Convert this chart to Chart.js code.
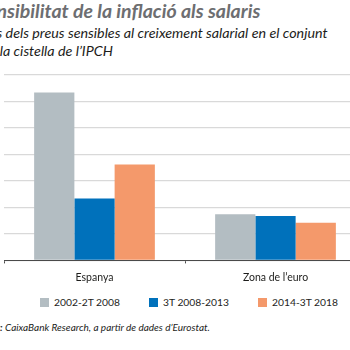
<!DOCTYPE html>
<html lang="ca">
<head>
<meta charset="utf-8">
<script src="https://cdn.jsdelivr.net/npm/chart.js@4.4.1/dist/chart.umd.min.js"></script>
<style>
  html, body { margin: 0; padding: 0; background: #fff; }
  body { width: 350px; height: 350px; overflow: hidden; position: relative; font-family: Lato, "Open Sans", sans-serif; }
  .title { position: absolute; top: -1px; left: -23px; white-space: nowrap;
           font: italic 700 19.5px Lato, sans-serif; color: #6d6e71; line-height: 23px; }
  .subtitle { position: absolute; top: 24px; left: -18px; white-space: nowrap;
              font: italic 400 14.3px Lato, sans-serif; color: #1d1d1b; line-height: 18px; }
  #wrap { position: absolute; left: 4px; top: 70px; width: 362px; height: 222px; }
  #legend { position: absolute; left: 40px; top: 296px; display: flex; align-items: center;
            font: 400 10.3px Lato, sans-serif; color: #1d1d1b; white-space: nowrap; line-height: 13px; }
  #legend .item { display: flex; align-items: center; width: 109px; }
  #legend .box { width: 9px; height: 9px; margin-right: 5px; }
  .source { position: absolute; top: 320px; left: -19px; white-space: nowrap;
            font: italic 400 10px Lato, sans-serif; color: #1d1d1b; line-height: 14px; }
  .source b { font-weight: 700; }
</style>
</head>
<body>
<div class="title">Sensibilitat de la inflació als salaris</div>
<div class="subtitle">Pes dels preus sensibles al creixement salarial en el conjunt<br>de la cistella de l’IPCH</div>
<div id="wrap"><canvas id="chart"></canvas></div>
<div id="legend"></div>
<div class="source"><b>Font:</b> CaixaBank Research, a partir de dades d’Eurostat.</div>
<script>
// Categories and series (% of the HICP basket)
const categories = ['Espanya', 'Zona de l’euro'];
const periods = ['2002-2T 2008', '3T 2008-2013', '2014-3T 2018'];
const period1 = [31.7, 8.7];
const period2 = [11.7, 8.4];
const period3 = [18.1, 7.1];
const colors = ['#b3bdc2', '#0071bb', '#f4996b'];

const series = [period1, period2, period3];

const chart = new Chart(document.getElementById('chart'), {
  type: 'bar',
  data: {
    labels: categories,
    datasets: series.map((values, i) => ({
      label: periods[i],
      data: values,
      backgroundColor: colors[i],
      borderWidth: 0,
      barPercentage: 1,
      categoryPercentage: 0.667
    }))
  },
  options: {
    responsive: true,
    maintainAspectRatio: false,
    animation: false,
    layout: { padding: { top: 5, left: 0, right: 0, bottom: 0 } },
    plugins: { legend: { display: false }, tooltip: { enabled: false } },
    scales: {
      x: {
        grid: { display: true, drawOnChartArea: false, drawTicks: true, tickLength: 3, color: '#4a4a4a', lineWidth: 1 },
        border: { display: true, color: '#4a4a4a', width: 1 },
        ticks: { color: '#1d1d1b', padding: 8, font: { family: 'Lato', size: 10.5 } }
      },
      y: {
        min: 0,
        max: 35,
        ticks: { display: false, stepSize: 5 },
        grid: { color: '#d9d9d9', lineWidth: 1.3, drawTicks: false },
        border: { display: false }
      }
    }
  }
});

// Legend built from the datasets
const legend = document.getElementById('legend');
chart.data.datasets.forEach(ds => {
  const item = document.createElement('div');
  item.className = 'item';
  const box = document.createElement('span');
  box.className = 'box';
  box.style.background = ds.backgroundColor;
  const txt = document.createElement('span');
  txt.textContent = ds.label;
  item.appendChild(box);
  item.appendChild(txt);
  legend.appendChild(item);
});
</script>
</body>
</html>
